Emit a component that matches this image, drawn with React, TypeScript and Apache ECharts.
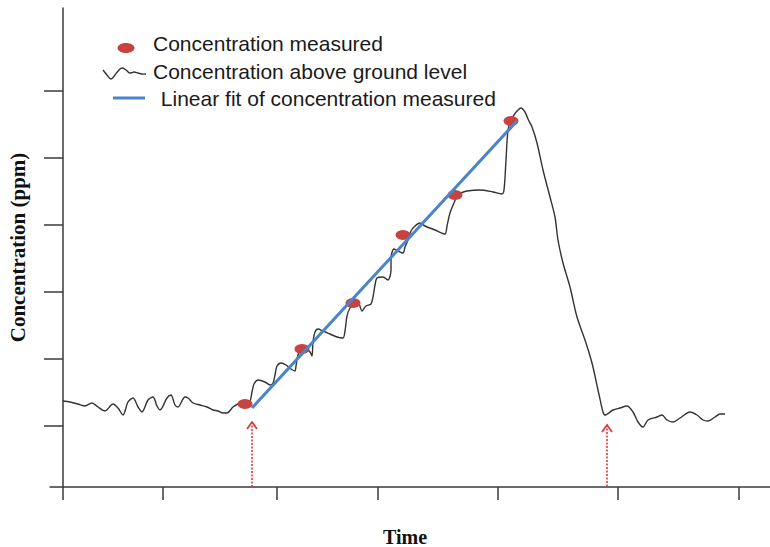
import React, { useEffect, useRef } from 'react';
import * as echarts from 'echarts';

// Axis tick positions (data units)
const xTicks = [0, 100, 214, 315, 435, 555, 676];
const yTicks = [61, 128, 195, 262, 329, 396];

// Legend labels
const legendLabels = [
  'Concentration measured',
  'Concentration above ground level',
  ' Linear fit of concentration measured',
];

// Measured concentration points
const measured = [
  [182, 83], [239, 138], [290, 184], [340, 252], [392, 292], [448, 366],
];

// Linear fit end points
const fitLine = [
  [189, 79], [454, 366],
];

// Start / end marker arrows (x, arrow-head height)
const arrows = [
  [189, 65], [544, 62],
];

// Concentration above ground level: background section
const baseline = [
  [0, 86], [7, 85], [15, 83], [22, 81], [29, 84], [35, 80], [42, 76], [50, 83],
  [55, 79], [60, 72], [65, 85], [70, 89], [75, 80], [79, 75], [85, 87], [90, 90],
  [94, 81], [97, 77], [104, 89], [108, 92], [112, 82], [115, 80], [122, 90], [125, 89],
  [130, 84], [137, 82], [144, 80], [150, 77], [155, 76], [160, 74], [164, 74], [170, 80],
  [177, 84], [183, 85], [187, 86],
];

// Accumulation section (chamber closed)
const rise = [
  [189, 95], [191, 103], [195, 107], [202, 105], [207, 102], [210, 104], [212, 112],
  [214, 121], [218, 124], [223, 122], [228, 118], [232, 116], [233, 121], [235, 132],
  [238, 137], [243, 138], [247, 135], [249, 131],
  [250, 145], [252, 155], [255, 158], [260, 156], [267, 153], [274, 150], [280, 149],
  [282, 156], [284, 171], [287, 179], [292, 184], [296, 183], [299, 176], [303, 181],
  [308, 183],
  [310, 190], [312, 202], [314, 209], [320, 210], [325, 207], [328, 217], [328, 229],
  [331, 238], [335, 236], [340, 234], [342, 240], [345, 247], [348, 256],
  [352, 261], [357, 264], [362, 261], [372, 257], [382, 253], [384, 261], [387, 274],
  [391, 284], [394, 291], [398, 294],
  [404, 296], [417, 297], [430, 295], [439, 293], [441, 297], [443, 327], [445, 357],
  [448, 367], [451, 372], [455, 377], [458, 379], [462, 375], [465, 368],
];

// Venting section
const fall = [
  [469, 360], [474, 344], [480, 317], [487, 290], [492, 270], [495, 247], [500, 224],
  [507, 200], [514, 170], [522, 147], [529, 124], [535, 97], [540, 75], [542, 72],
];

// Back to background
const recovery = [
  [550, 77], [557, 79], [564, 81], [570, 75], [575, 65], [580, 60], [585, 67],
  [594, 70], [599, 72], [604, 67], [610, 65], [617, 69], [627, 75], [634, 72],
  [640, 67], [645, 66], [652, 70], [657, 73], [662, 73],
];

const AXIS_COLOR = '#3a3a3a';
const RED = '#C8423F';
const BLUE = '#4A84CC';
const CURVE = '#333333';

export default function App() {
  const ref = useRef<HTMLDivElement>(null);

  useEffect(() => {
    if (!ref.current) return;
    const chart = echarts.init(ref.current, null, { renderer: 'svg' });
    const curve = [...baseline, ...rise, ...fall, ...recovery];

    chart.setOption({
      animation: false,
      backgroundColor: '#ffffff',
      grid: { left: 50, right: 0, top: 8, bottom: 60, outerBoundsMode: 'none', containLabel: false },
      xAxis: {
        type: 'value',
        min: -13,
        max: 707,
        name: 'Time',
        nameLocation: 'middle',
        nameGap: 40,
        nameTextStyle: {
          fontFamily: 'Liberation Serif',
          fontWeight: 'bold',
          fontSize: 20,
          lineHeight: 20,
          color: '#111',
          padding: [0, 10, 0, 0],
        },
        axisLine: { show: true, onZero: false, lineStyle: { color: AXIS_COLOR, width: 1.5 } },
        axisTick: { show: true, length: 13, inside: false, customValues: xTicks, lineStyle: { color: AXIS_COLOR, width: 1.5 } },
        axisLabel: { show: false },
        splitLine: { show: false },
      },
      yAxis: {
        type: 'value',
        min: 0,
        max: 479,
        name: 'Concentration (ppm)',
        nameLocation: 'middle',
        nameGap: 21,
        nameTextStyle: {
          fontFamily: 'Liberation Serif',
          fontWeight: 'bold',
          fontSize: 21,
          lineHeight: 22,
          color: '#111',
        },
        axisLine: { show: true, onZero: true, lineStyle: { color: AXIS_COLOR, width: 1.5 } },
        axisTick: { show: true, length: 19, inside: false, customValues: yTicks, lineStyle: { color: AXIS_COLOR, width: 1.5 } },
        axisLabel: { show: false },
        splitLine: { show: false },
      },
      graphic: [
        { type: 'ellipse', shape: { cx: 126, cy: 48, rx: 8.5, ry: 5 }, style: { fill: RED } },
        {
          type: 'polyline',
          shape: {
            points: [[103, 70], [107, 75], [111, 79], [115, 75], [119, 70], [122, 68], [126, 70], [130, 73], [134, 72], [138, 73], [142, 74], [146, 74]],
            smooth: 0.4,
          },
          style: { stroke: CURVE, lineWidth: 1.4, fill: null },
        },
        { type: 'line', shape: { x1: 113, y1: 98, x2: 145, y2: 98 }, style: { stroke: BLUE, lineWidth: 3 } },
        { type: 'text', x: 153, y: 43, style: { text: legendLabels[0], fontFamily: 'Liberation Sans', fontSize: 21, fill: '#1a1a1a', verticalAlign: 'middle' } },
        { type: 'text', x: 153, y: 71, style: { text: legendLabels[1], fontFamily: 'Liberation Sans', fontSize: 21, fill: '#1a1a1a', verticalAlign: 'middle' } },
        { type: 'text', x: 155, y: 98, style: { text: legendLabels[2], fontFamily: 'Liberation Sans', fontSize: 21, fill: '#1a1a1a', verticalAlign: 'middle' } },
      ],
      series: [
        {
          type: 'line',
          name: legendLabels[1],
          data: curve,
          smooth: 0.3,
          symbol: 'none',
          lineStyle: { color: CURVE, width: 1.4 },
          z: 2,
        },
        {
          type: 'scatter',
          name: legendLabels[0],
          data: measured,
          symbol: 'circle',
          symbolSize: [15, 10],
          itemStyle: { color: RED, opacity: 1 },
          z: 3,
        },
        {
          type: 'line',
          name: legendLabels[2],
          data: fitLine,
          symbol: 'none',
          lineStyle: { color: BLUE, width: 3 },
          z: 4,
        },
        {
          type: 'custom',
          data: arrows,
          z: 5,
          renderItem: (params: any, api: any) => {
            const x = api.value(0);
            const top = api.coord([x, api.value(1)]);
            const bottom = api.coord([x, 0]);
            const stroke = '#E0383B';
            return {
              type: 'group',
              children: [
                {
                  type: 'line',
                  shape: { x1: top[0], y1: top[1], x2: bottom[0], y2: bottom[1] },
                  style: { stroke, lineWidth: 1.6, lineDash: [2, 1.5] },
                },
                {
                  type: 'polyline',
                  shape: { points: [[top[0] - 5, top[1] + 7], [top[0], top[1]], [top[0] + 5, top[1] + 7]] },
                  style: { stroke, lineWidth: 1.8, fill: null },
                },
              ],
            };
          },
        },
      ],
    });

    return () => chart.dispose();
  }, []);

  return (
    <div
      ref={ref}
      style={{ position: 'absolute', left: 0, top: 0, width: 770, height: 547, background: '#fff' }}
    />
  );
}
